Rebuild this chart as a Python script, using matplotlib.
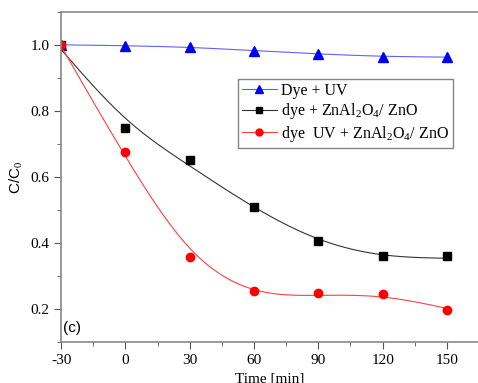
import numpy as np
import matplotlib
matplotlib.use("Agg")
from matplotlib import pyplot as plt
from matplotlib.lines import Line2D
from matplotlib.ticker import MultipleLocator

time = [-30, 0, 30, 60, 90, 120, 150]
dye_uv = [1.0, 0.997, 0.994, 0.982, 0.973, 0.964, 0.964]
dye_cat = [1.0, 0.749, 0.652, 0.509, 0.406, 0.360, 0.360]
dye_uv_cat = [1.0, 0.676, 0.358, 0.255, 0.249, 0.246, 0.197]

labels = ["Dye + UV",
          "dye + ZnAl$_2$O$_4$/ ZnO",
          "dye  UV + ZnAl$_2$O$_4$/ ZnO"]


# cubic smoothing spline (Reinsch), values g and 2nd derivatives m at knots
def smooth_spline(x, y, lam, xs):
    x = np.asarray(x, float)
    y = np.asarray(y, float)
    n = len(x)
    h = np.diff(x)
    Q = np.zeros((n, n - 2))
    R = np.zeros((n - 2, n - 2))
    for j in range(1, n - 1):
        Q[j - 1, j - 1] = 1 / h[j - 1]
        Q[j, j - 1] = -1 / h[j - 1] - 1 / h[j]
        Q[j + 1, j - 1] = 1 / h[j]
        R[j - 1, j - 1] = (h[j - 1] + h[j]) / 3
        if j < n - 2:
            R[j - 1, j] = R[j, j - 1] = h[j] / 6
    K = Q @ np.linalg.solve(R, Q.T)
    g = np.linalg.solve(np.eye(n) + lam * K, y)
    m = np.zeros(n)
    m[1:-1] = np.linalg.solve(R, Q.T @ g)
    i = np.clip(np.searchsorted(x, xs) - 1, 0, n - 2)
    a = xs - x[i]
    b = x[i + 1] - xs
    hi = h[i]
    return (a * g[i + 1] + b * g[i]) / hi - a * b / 6 * (
        (1 + a / hi) * m[i + 1] + (1 + b / hi) * m[i])


plt.rcParams['font.family'] = ['Liberation Serif', 'DejaVu Serif']
plt.rcParams['mathtext.fontset'] = 'custom'
plt.rcParams['mathtext.rm'] = 'Liberation Serif'
plt.rcParams['axes.unicode_minus'] = False

fig = plt.figure(figsize=(4.78, 3.83), dpi=100)
ax = fig.add_axes([0.128, 0.107, 0.872, 0.862])

tt = np.linspace(-30, 150, 400)

series = [
    (dye_uv, "#0000ff", "#6060ff", "^", 7, 5000),
    (dye_cat, "black", "#333333", "s", 5.5, 4000),
    (dye_uv_cat, "#ff0000", "#ff4040", "o", 6, 3000),
]
handles = []
for vals, mc, lc, mk, ms, lam in series:
    ax.plot(tt, smooth_spline(time, vals, lam, tt), color=lc, lw=0.8)
    ax.plot(time, vals, linestyle="none", marker=mk, color=mc, markersize=ms)
    handles.append(Line2D([], [], color=lc, lw=0.8, marker=mk,
                          markerfacecolor=mc, markeredgecolor=mc, markersize=ms - 1))

ax.set_xlim(-30, 164.5)
ax.set_ylim(0.1, 1.1)
ax.set_xticks(time)
ax.set_yticks([0.2, 0.4, 0.6, 0.8, 1.0])
ax.xaxis.set_minor_locator(MultipleLocator(15))
ax.yaxis.set_minor_locator(MultipleLocator(0.1))
ax.tick_params(which="both", direction="out", colors="#555555", labelcolor="black",
               labelsize=11)
ax.tick_params(which="major", length=5)
ax.tick_params(which="minor", length=3)
for s in ax.spines.values():
    s.set_color("#888888")
    s.set_linewidth(1.2)
ax.spines["right"].set_visible(False)

ax.set_xlabel("Time [min]", fontsize=11, labelpad=4)
ax.set_ylabel("C/C$_0$", fontsize=11, family="Liberation Sans")
ax.text(0.005, 0.03, "(c)", transform=ax.transAxes, fontsize=11,
        family="Liberation Sans")

ax.legend(handles, labels, loc="upper left", bbox_to_anchor=(0.424, 0.797),
          fontsize=11.5, frameon=True, fancybox=False, edgecolor="#666666",
          handlelength=2.2, handletextpad=0.25, labelspacing=0.15,
          borderpad=0.25, borderaxespad=0)

fig.savefig("out.png", dpi=100)
